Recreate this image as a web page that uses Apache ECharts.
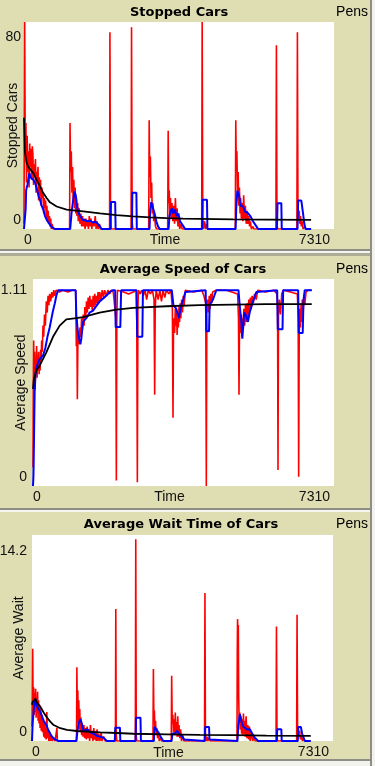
<!DOCTYPE html>
<html>
<head>
<meta charset="utf-8">
<title>Traffic plots</title>
<script src="https://cdn.jsdelivr.net/npm/echarts@6/dist/echarts.min.js"></script>
<style>
  html, body { margin: 0; padding: 0; background: #dfddb2; }
  #plots { width: 375px; height: 766px; }
</style>
</head>
<body>
<div id="plots"></div>
<script>
    'use strict';

    // axis ranges (the min / max labels NetLogo prints)
    var timeRange = [0, 7310];
    var stoppedRange = [0, 80];
    var speedRange = [0, 1.11];
    var waitRange = [0, 14.2];

    // ---- Stopped Cars : [tick, value] ----
    var stoppedRed = [
        [0,2],[16,80],[30,28],[45,41],[60,18],[75,36],[90,22],[105,30],[120,16],[135,33],[150,24],[165,31],[180,19],[196,32],
        [210,29],[225,17],[240,25],[255,21],[270,27],[285,14],[300,22],[315,18],[330,24],[345,11],[360,20],[375,13],[390,19],
        [405,9],[420,16],[435,12],[450,14],[465,6],[480,12],[495,8],[510,11],[525,4],[540,9],[555,3],[570,7],[585,2],[600,5],
        [615,1],[630,4],[645,0],[660,2],[690,0],[1075,0],
        [1085,41],[1100,22],[1115,30],[1130,14],[1145,24],[1160,10],[1175,19],[1190,8],[1205,16],[1220,6],[1235,12],[1250,5],
        [1265,10],[1280,3],[1300,8],[1320,2],[1340,6],[1360,1],[1380,5],[1400,1],[1420,4],[1440,0],[1460,4],[1480,1],[1500,3],
        [1520,0],[1540,5],[1560,1],[1580,4],[1600,0],[1620,3],[1650,1],[1680,5],[1700,0],[1720,3],[1750,0],[1780,2],[1800,0],
        [2018,0],[2026,76],[2040,5],[2055,0],
        [2525,0],[2536,78],[2550,3],[2565,0],
        [2940,0],[2952,42],[2965,20],[2980,28],[2995,12],[3010,18],[3025,6],[3040,10],[3060,3],[3080,5],[3100,1],[3125,0],
        [3388,0],[3400,38],[3412,10],[3425,15],[3440,6],[3455,12],[3470,4],[3490,10],[3510,3],[3530,9],[3550,2],[3570,12],
        [3590,3],[3610,8],[3630,1],[3650,5],[3670,0],[3700,2],[3730,0],
        [4190,0],[4201,80],[4215,4],[4230,0],[4260,3],[4280,0],[4300,2],[4330,0],
        [4982,0],[4994,42],[5005,25],[5020,30],[5035,14],[5050,22],[5065,9],[5080,16],[5095,6],[5110,12],[5125,4],[5140,10],
        [5160,3],[5180,13],[5200,4],[5220,9],[5240,2],[5260,7],[5280,2],[5300,5],[5320,1],[5340,3],[5360,0],[5400,1],[5420,0],
        [5940,0],[5952,71],[5965,2],[5980,0],
        [6435,0],[6447,76],[6460,8],[6475,4],[6490,7],[6505,2],[6520,5],[6540,1],[6560,3],[6580,0],[6620,1],[6650,0],[6770,0]
    ];
    var stoppedBlue = [
        [0,0],[30,0],[40,8],[50,15],[80,17],[126,21.6],[150,20],[181,19.5],[220,19],[259,18],[298,15.8],[340,13],[377,11.3],
        [415,9],[455,7.5],[495,5],[534,3.6],[575,2.5],[612,1.7],[650,0.8],[691,0.2],[730,0],[1090,0],
        [1120,6],[1150,10],[1190,14.5],[1220,13],[1250,8.7],[1290,6],[1330,4.9],[1380,3.6],[1440,3.4],[1500,3],[1560,3.2],
        [1620,2.5],[1680,2.8],[1740,2],[1790,1],[1830,0],[2040,0],
        [2052,10.4],[2150,10.4],[2160,0],[2545,0],[2555,14],[2650,14],[2660,0],
        [2960,0],[2975,7],[3000,10.4],[3040,10],[3080,6],[3120,3],[3160,1],[3200,0],
        [3410,0],[3430,5],[3460,7],[3490,8],[3520,6],[3560,7.5],[3600,5],[3640,6],[3680,3],[3720,2],[3760,1],[3800,0],
        [4200,0],[4212,11.3],[4315,11.3],[4325,0],
        [4990,0],[5005,8],[5030,14.8],[5070,13],[5110,9],[5167,8.7],[5210,6.8],[5245,7.5],[5290,6],[5340,4.9],[5400,3],
        [5440,2.3],[5480,1],[5520,0],
        [5965,0],[5978,10],[6068,10],[6078,0],
        [6450,0],[6465,11],[6540,11],[6580,6],[6610,2],[6640,0],[6770,0]
    ];
    var stoppedAvg = [
        [0,43],[20,30],[63,25.5],[102,24],[141,23.5],[220,21.6],[298,19],[377,16.5],[455,13.9],[534,12],[612,10.3],[770,8.7],
        [1005,7.5],[1398,6.8],[1790,6],[2183,5.4],[2575,4.9],[2968,4.5],[3361,4.2],[3753,4],[4146,3.9],[4931,3.7],[5716,3.6],
        [6770,3.5]
    ];

    // ---- Average Speed ----
    var speedRed = [
        [0,0.1],[8,0.55],[16,0.78],[28,0.6],[40,0.72],[52,0.52],[64,0.68],[76,0.62],[88,0.75],[100,0.58],[112,0.7],[124,0.64],
        [136,0.72],[148,0.6],[160,0.68],[172,0.62],[184,0.73],[196,0.66],[210,0.78],[225,0.72],[243,0.86],[260,0.8],[280,0.92],
        [300,0.86],[324,0.99],[345,0.93],[365,1.02],[385,0.97],[405,1.03],[430,0.99],[455,1.04],[480,1.01],[505,1.05],[530,1.02],
        [560,1.05],[640,1.04],[720,1.05],[850,1.04],[950,1.05],[1036,1.05],
        [1052,0.75],[1065,0.9],[1077,0.465],[1090,0.78],[1105,0.83],[1120,0.76],[1140,0.85],[1160,0.8],[1180,0.9],[1200,0.84],
        [1220,0.92],[1240,0.86],[1260,0.96],[1280,0.9],[1300,0.99],[1320,0.93],[1340,1.01],[1360,0.95],[1380,1.02],[1400,0.96],
        [1420,1.0],[1440,0.94],[1460,1.02],[1480,0.96],[1500,1.03],[1520,0.97],[1540,1.02],[1560,0.98],[1580,1.04],[1600,0.99],
        [1620,1.04],[1650,1.0],[1680,1.05],[1710,1.01],[1740,1.05],[1780,1.02],[1820,1.05],[1860,1.03],[1900,1.05],[1950,1.04],
        [1995,1.05],[2012,0.9],[2024,0.03],[2035,0.9],[2050,1.05],[2200,1.04],[2320,1.03],[2440,1.04],[2505,1.05],
        [2520,0.9],[2534,0.02],[2548,0.95],[2560,1.05],[2600,1.03],[2640,1.05],[2680,1.02],[2720,1.05],[2760,1.0],[2800,1.05],
        [2850,1.03],[2900,1.05],[2940,1.0],[2955,0.49],[2968,0.95],[2990,1.05],[3040,1.0],[3080,1.05],[3120,0.99],[3160,1.05],
        [3200,1.01],[3240,1.05],[3300,1.03],[3350,1.05],[3385,0.95],[3400,0.366],[3412,0.85],[3425,0.9],[3440,0.82],[3455,0.95],
        [3470,0.86],[3485,0.93],[3500,0.81],[3515,0.9],[3530,0.85],[3545,0.96],[3560,0.88],[3575,0.98],[3590,0.9],[3610,1.0],
        [3630,0.93],[3650,1.02],[3670,0.97],[3700,1.05],[3900,1.04],[4100,1.05],[4150,1.02],[4195,0.98],
        [4209,0.0],[4222,0.95],[4240,1.0],[4260,0.93],[4280,1.02],[4300,0.95],[4320,1.03],[4340,0.98],[4360,1.04],[4400,1.03],
        [4450,1.05],[4700,1.05],[4970,1.03],[4990,0.9],
        [5003,0.49],[5015,0.85],[5030,0.95],[5045,0.82],[5060,0.92],[5075,0.8],[5090,0.9],[5105,0.84],[5120,0.95],[5140,0.86],
        [5160,0.97],[5180,0.88],[5200,0.98],[5220,0.9],[5240,1.0],[5260,0.93],[5280,1.01],[5300,0.95],[5320,1.02],[5350,0.98],
        [5380,1.03],[5420,1.0],[5460,1.05],[5650,1.04],[5850,1.05],[5925,1.03],[5940,0.95],
        [5950,0.086],[5962,0.92],[5980,1.0],[6010,0.92],[6040,1.03],[6080,1.05],[6250,1.04],[6420,1.03],[6440,0.9],
        [6452,0.05],[6465,0.8],[6480,0.95],[6495,0.85],[6510,0.98],[6525,0.88],[6540,1.0],[6560,0.93],[6580,1.02],[6600,0.97],
        [6630,1.04],[6680,1.05],[6770,1.05]
    ];
    var speedBlue = [
        [0,0],[10,0.05],[16,0.12],[30,0.35],[40,0.5],[60,0.6],[81,0.63],[121,0.66],[162,0.68],[243,0.7],[300,0.74],[350,0.8],
        [405,0.85],[450,0.9],[486,0.94],[530,0.98],[567,1.02],[607,1.05],[1036,1.05],
        [1052,0.915],[1093,0.82],[1150,0.76],[1174,0.79],[1214,0.88],[1295,0.9],[1376,0.93],[1457,0.94],[1619,0.99],
        [1781,1.02],[1862,1.04],[1943,1.05],[1995,1.05],[2008,0.852],[2121,0.852],[2140,1.05],[2515,1.05],[2530,0.8],
        [2655,0.8],[2670,1.05],[3370,1.05],[3410,0.97],[3480,0.95],[3540,0.9],[3600,0.97],[3650,1.0],[3700,1.04],[3724,1.05],
        [4193,1.05],[4209,0.83],[4275,0.83],[4290,0.97],[4371,1.0],[4452,1.05],
        [4990,1.05],[5019,0.97],[5060,0.88],[5084,0.79],[5130,0.93],[5181,0.91],[5220,0.88],[5262,0.93],[5343,0.99],
        [5424,1.04],[5464,1.05],[5930,1.05],[5945,0.84],[6060,0.84],[6075,1.05],
        [6440,1.05],[6455,0.82],[6550,0.82],[6570,1.0],[6600,1.05],[6770,1.05]
    ];
    var speedAvg = [
        [0,0.52],[20,0.57],[81,0.62],[162,0.645],[324,0.717],[486,0.8],[648,0.86],[810,0.894],[1052,0.9],[1214,0.906],
        [1619,0.93],[2024,0.946],[2429,0.955],[3238,0.964],[4047,0.97],[4857,0.973],[5666,0.975],[6770,0.975]
    ];

    // ---- Average Wait ----
    var waitRed = [
        [0,1],[8,3.2],[16,6.35],[28,2.2],[40,3.7],[52,1.8],[64,3.3],[76,2.0],[88,3.6],[100,1.6],[112,3.0],[124,1.9],[136,3.4],
        [148,1.4],[160,2.8],[172,1.2],[184,2.5],[196,0.9],[210,2.2],[225,0.7],[240,1.8],[255,0.6],[270,1.5],[285,0.3],
        [300,1.2],[315,0.2],[330,1.0],[345,0.1],[360,2.0],[375,0.2],[390,0.8],[410,0],[430,0.6],[450,0],[470,0.4],[490,0],
        [520,0.2],[560,0],[598,0],[606,0.9],[615,0],[1075,0],
        [1082,0.5],[1090,5.08],[1100,1.5],[1112,3.5],[1124,1.2],[1136,2.8],[1148,0.8],[1160,2.2],[1175,0.6],[1190,1.6],
        [1205,0.4],[1220,1.2],[1240,0.3],[1260,1.1],[1280,0.2],[1300,0.9],[1320,0.1],[1340,1.0],[1360,0.2],[1380,0.8],
        [1400,0],[1420,1.1],[1440,0.2],[1460,0.7],[1480,0],[1500,0.9],[1520,0.1],[1540,0.6],[1560,0],[1580,0.8],[1600,0],
        [1620,0.5],[1650,0],[1680,0.6],[1700,0],[1740,0.3],[1780,0],
        [2026,0],[2035,9.1],[2045,0.5],[2060,0],
        [2510,0],[2520,13.9],[2532,0.3],[2545,0],
        [2938,0],[2948,4.96],[2960,1.5],[2972,2.1],[2985,0.8],[3000,1.4],[3015,0.4],[3030,0.9],[3050,0.2],[3070,0.5],
        [3090,0],[3120,0.2],[3150,0],
        [3382,0],[3392,4.5],[3405,1.2],[3420,1.8],[3435,0.6],[3450,1.5],[3465,0.4],[3480,1.96],[3495,0.5],[3510,1.3],
        [3525,0.3],[3540,1.7],[3555,0.3],[3570,1.1],[3590,0.2],[3610,0.8],[3630,0],[3660,0.4],[3690,0],
        [4190,0],[4200,10.2],[4212,0.6],[4225,0],[4250,0.3],[4270,0],[4300,0.2],[4330,0],
        [4978,0],[4985,6.0],[4992,8.4],[5000,7.5],[5010,8.0],[5020,3.0],[5030,1.5],[5045,1.96],[5060,0.8],[5075,1.7],
        [5090,0.5],[5105,1.5],[5120,0.4],[5135,1.9],[5150,0.5],[5165,1.4],[5180,0.3],[5200,1.7],[5220,0.2],[5240,1.1],
        [5260,0.1],[5280,1.0],[5300,0],[5330,0.6],[5360,0],[5390,0.3],[5420,0],
        [5927,0],[5937,7.9],[5950,0.3],[5965,0],
        [6427,0],[6437,8.7],[6450,0.6],[6465,1.0],[6480,0.3],[6500,0.7],[6520,0.1],[6540,0.4],[6570,0],[6600,0.2],[6630,0],
        [6770,0]
    ];
    var waitBlue = [
        [0,0],[8,0],[16,1.2],[40,2.1],[60,2.6],[81,2.89],[100,2.6],[121,2.4],[162,2.3],[202,2.0],[243,1.7],[283,1.4],
        [323,1.2],[363,1.0],[404,0.7],[444,0.5],[485,0.3],[525,0.2],[565,0.1],[606,0.05],[646,0],[1080,0],
        [1100,0.6],[1130,1.2],[1171,1.5],[1200,1.3],[1252,0.69],[1300,0.75],[1350,0.8],[1413,0.6],[1460,0.58],[1500,0.5],
        [1575,0.35],[1650,0.3],[1737,0.23],[1780,0.1],[1817,0],
        [2010,0],[2022,0.92],[2135,0.92],[2145,0],[2515,0],[2525,1.6],[2635,1.6],[2645,0],
        [2960,0],[2975,0.97],[3020,0.9],[3069,0.6],[3120,0.3],[3190,0],
        [3390,0],[3410,0.5],[3440,0.6],[3480,0.55],[3520,0.69],[3560,0.6],[3600,0.4],[3650,0.3],[3700,0.1],[3720,0],
        [4195,0],[4205,0.97],[4300,0.97],[4310,0.1],[4330,0],
        [4990,0],[5010,1.0],[5048,1.85],[5090,1.3],[5130,1.0],[5169,0.92],[5220,0.8],[5290,0.81],[5350,0.5],[5411,0.23],
        [5450,0.1],[5492,0],[5945,0],[5955,0.81],[6055,0.81],[6065,0],
        [6455,0],[6465,0.97],[6530,0.97],[6560,0.5],[6600,0.2],[6624,0],[6770,0]
    ];
    var waitAvg = [
        [0,2.5],[16,2.7],[81,2.9],[121,2.65],[202,2.36],[283,1.96],[363,1.62],[444,1.34],[525,1.1],[687,0.88],[848,0.76],
        [1090,0.69],[1656,0.6],[2060,0.55],[2464,0.5],[3271,0.46],[4079,0.42],[4887,0.4],[5694,0.37],[6770,0.35]
    ];

    var plain = { fontFamily: 'Liberation Sans', fontSize: 14, color: '#111' };
    var bold = { fontFamily: 'DejaVu Sans', fontSize: 13, fontWeight: 'bold', color: '#000' };

    var grids = [
        { left: 24, top: 22, width: 310, height: 207 },
        { left: 33, top: 279, width: 301, height: 207 },
        { left: 32, top: 535, width: 301, height: 206 }
    ];

    function xAxis(i, gap) {
        return {
            gridIndex: i, type: 'value', min: timeRange[0], max: timeRange[1], interval: timeRange[1] - timeRange[0],
            name: 'Time', nameLocation: 'middle', nameGap: gap, nameMoveOverlap: false,
            nameTextStyle: Object.assign({ padding: [0, 28, 0, 0] }, plain),
            axisLine: { show: false }, axisTick: { show: false }, splitLine: { show: false },
            axisLabel: Object.assign({
                margin: 4, alignMinLabel: 'left', alignMaxLabel: 'right', padding: [0, 4, 0, 0],
                formatter: function(v) { return String(v); }
            }, plain)
        };
    }

    function yAxis(i, range, name, gap, margin, padTop) {
        return {
            gridIndex: i, type: 'value', min: range[0], max: range[1], interval: range[1] - range[0],
            name: name, nameLocation: 'middle', nameGap: gap, nameRotate: 90, nameMoveOverlap: false,
            nameTextStyle: plain,
            axisLine: { show: false }, axisTick: { show: false }, splitLine: { show: false },
            axisLabel: Object.assign({
                margin: margin, verticalAlignMinLabel: 'bottom', verticalAlignMaxLabel: 'top', padding: [padTop, 0, 2, 0],
                formatter: function(v) { return String(v); }
            }, plain)
        };
    }

    function pen(i, data, color, width) {
        return {
            type: 'line', xAxisIndex: i, yAxisIndex: i, data: data,
            showSymbol: false, symbol: 'none', clip: true,
            lineStyle: { color: color, width: width }, itemStyle: { color: color }
        };
    }

    function band(y, h, fill) {
        return { type: 'rect', shape: { x: 0, y: y, width: 371, height: h }, style: { fill: fill }, silent: true };
    }

    var chart = echarts.init(document.getElementById('plots'));
    chart.setOption({
        animation: false,
        backgroundColor: '#dfddb2',
        title: [
            { text: 'Stopped Cars', left: 179, top: 6, textAlign: 'center', padding: 0, textStyle: bold },
            { text: 'Average Speed of Cars', left: 183, top: 263, textAlign: 'center', padding: 0, textStyle: bold },
            { text: 'Average Wait Time of Cars', left: 181, top: 518, textAlign: 'center', padding: 0, textStyle: bold }
        ],
        grid: grids.map(function(g) {
            return Object.assign({
                show: true, backgroundColor: '#fff', borderWidth: 0, containLabel: false, outerBoundsMode: 'none'
            }, g);
        }),
        xAxis: [xAxis(0, 4), xAxis(1, 4), xAxis(2, 5)],
        yAxis: [
            yAxis(0, stoppedRange, 'Stopped Cars', 4, 3, 8),
            yAxis(1, speedRange, 'Average Speed', 5, 6, 4),
            yAxis(2, waitRange, 'Average Wait', 6, 5, 9)
        ],
        series: [
            pen(0, stoppedRed, '#ff0000', 1.6), pen(0, stoppedBlue, '#0000ff', 2), pen(0, stoppedAvg, '#000000', 1.8),
            pen(1, speedRed, '#ff0000', 1.6), pen(1, speedBlue, '#0000ff', 2), pen(1, speedAvg, '#000000', 1.8),
            pen(2, waitRed, '#ff0000', 1.6), pen(2, waitBlue, '#0000ff', 2), pen(2, waitAvg, '#000000', 1.8)
        ],
        graphic: [
            band(249, 2, '#8e8e86'), band(251, 2, '#f6f6f0'), band(253, 3, '#aeac95'),
            band(508, 2, '#8e8e86'), band(510, 2, '#f6f6f0'),
            band(759, 2, '#8e8e86'), band(761, 5, '#f2f2ee'),
            { type: 'rect', shape: { x: 370, y: 0, width: 2, height: 766 }, style: { fill: '#8e8e86' }, silent: true },
            { type: 'rect', shape: { x: 372, y: 0, width: 3, height: 766 }, style: { fill: '#f2f2ee' }, silent: true },
            { type: 'text', x: 368, y: 12, style: Object.assign({ text: 'Pens', align: 'right', verticalAlign: 'middle' }, plain) },
            { type: 'text', x: 368, y: 269, style: Object.assign({ text: 'Pens', align: 'right', verticalAlign: 'middle' }, plain) },
            { type: 'text', x: 368, y: 524, style: Object.assign({ text: 'Pens', align: 'right', verticalAlign: 'middle' }, plain) }
        ]
    });
</script>
</body>
</html>
